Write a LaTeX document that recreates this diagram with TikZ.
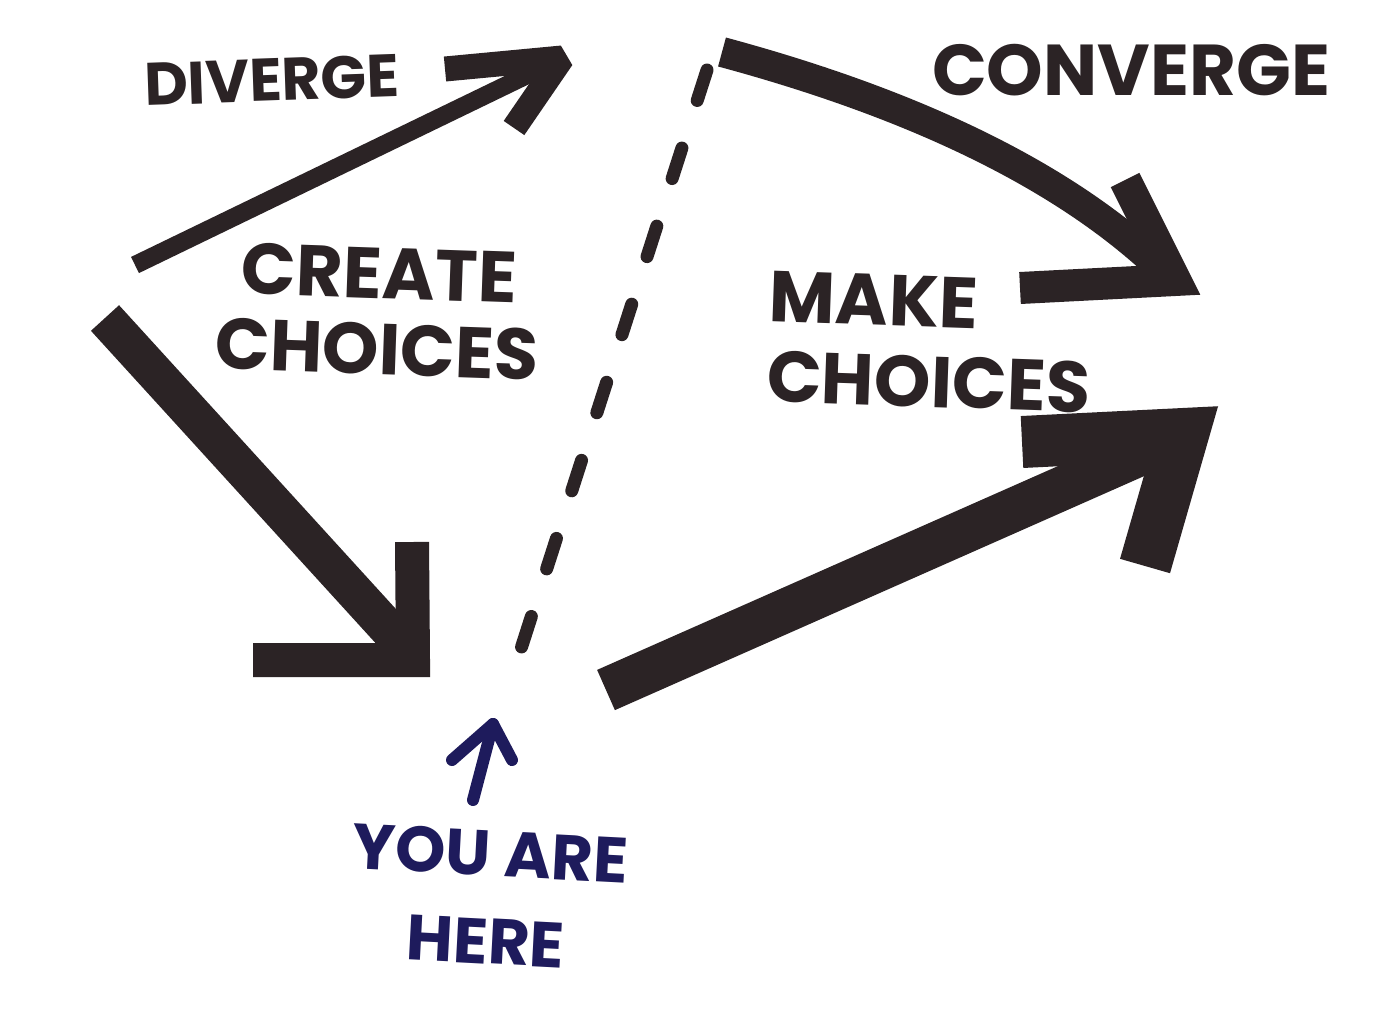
\documentclass[tikz,border=0pt]{standalone}
\usepackage{fontspec}
\setmainfont{Poppins}
\definecolor{ink}{HTML}{2B2325}
\definecolor{pen}{HTML}{1E1B5C}
\begin{document}
\begin{tikzpicture}[x=0.5pt,y=-0.5pt,
    marker/.style={ink, line width=#1, line join=miter, miter limit=2},
    marker/.default=12pt,
    hand/.style={ink, font=\fontsize{36}{38}\selectfont\bfseries, align=center, inner sep=0pt},
    note/.style={pen, font=\fontsize{32}{44}\selectfont\bfseries, align=center, inner sep=0pt}]
    \fill[white] (0,0) rectangle (1400,1018);
    % diverge
    \coordinate (d0) at (135,265);
    \coordinate (d1) at (562,58);
    \draw[marker=9pt] (d0) -- (548,65);
    \draw[marker=12.5pt] (445,69) -- (d1) -- (514,128);
    % create choices arrow
    \coordinate (c0) at (105,318);
    \coordinate (c1) at (413,660);
    \draw[marker=19pt] (c0) -- (403,645);
    \draw[marker=17pt] (412,542) -- (c1) -- (253,660);
    % converge
    \coordinate (v0) at (722,52);
    \coordinate (v1) at (1175,280);
    \draw[marker=15pt] (v0) .. controls (900,100) and (1060,170) .. (1165,272);
    \draw[marker=16pt] (1125,180) -- (v1) -- (1020,288);
    % make choices arrow
    \coordinate (m0) at (606,690);
    \coordinate (m1) at (1183,434);
    \draw[marker=22pt] (m0) -- (1160,445);
    \draw[marker=26pt] (1022,442) -- (m1) -- (1145,566);
    % the line between
    \draw[ink, line width=6.5pt, line cap=round, dash pattern=on 16pt off 25pt] (707,70) -- (518,658);
    % you are here
    \coordinate (h0) at (473,800);
    \coordinate (h1) at (493,724);
    \draw[pen, line width=6pt, line cap=round] (h0) -- (h1);
    \draw[pen, line width=6pt, line cap=round, line join=round] (452,760) -- (h1) -- (512,760);
    \node[hand, font=\fontsize{30}{34}\selectfont\bfseries, rotate=2] (diverge) at (272,80) {DIVERGE};
    \node[hand] (converge) at (1131,70) {CONVERGE};
    \node[hand, rotate=-2] (create) at (378,311) {CREATE\\CHOICES};
    \node[hand, font=\fontsize{36}{40}\selectfont\bfseries, align=left, rotate=-2] (make) at (930,342) {MAKE\\CHOICES};
    \node[note, rotate=-3] (here) at (488,897) {YOU ARE\\HERE};
\end{tikzpicture}
\end{document}
